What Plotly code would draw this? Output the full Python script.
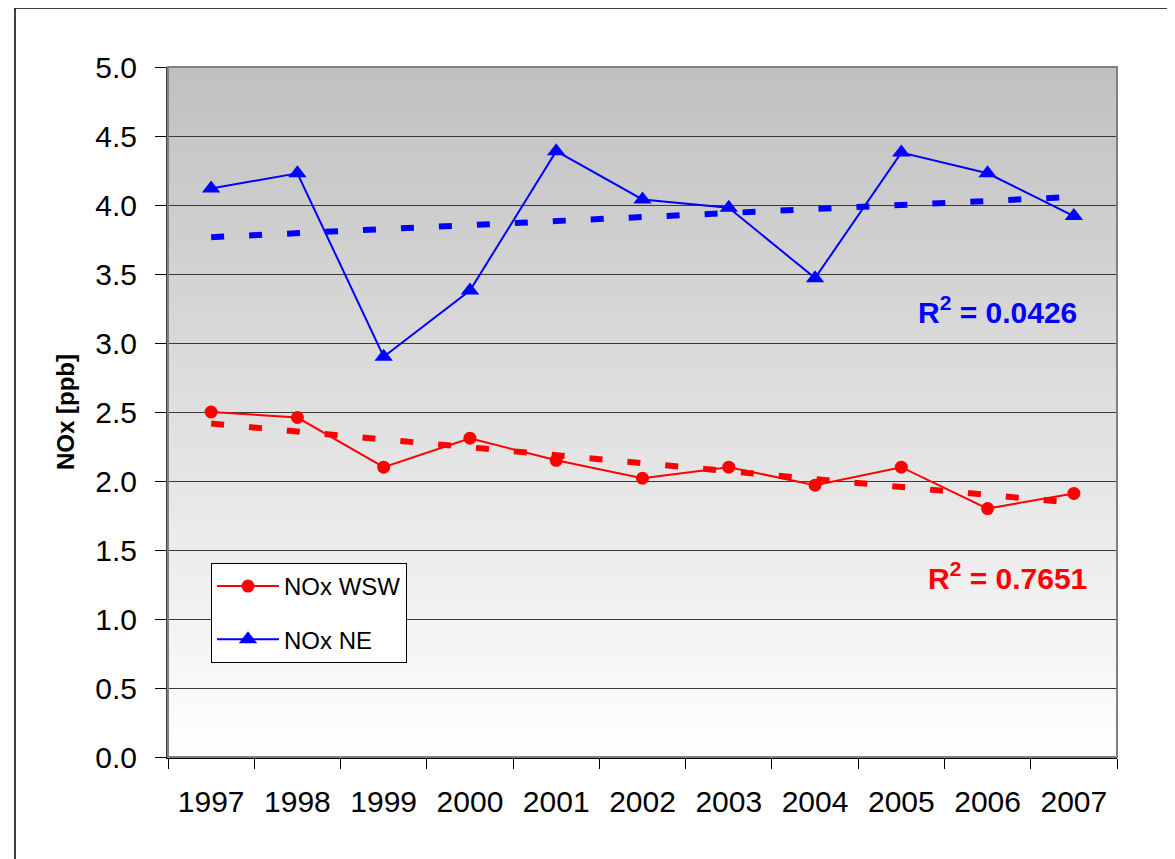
import numpy as np
import plotly.graph_objects as go

years = ["1997", "1998", "1999", "2000", "2001", "2002", "2003", "2004", "2005", "2006", "2007"]
nox_wsw = [2.50, 2.46, 2.10, 2.31, 2.15, 2.02, 2.10, 1.97, 2.10, 1.80, 1.91]
nox_ne = [4.12, 4.23, 2.90, 3.38, 4.39, 4.04, 3.98, 3.47, 4.38, 4.23, 3.92]
r2_wsw_text = "R<sup>2</sup> = 0.7651"
r2_ne_text = "R<sup>2</sup> = 0.0426"
y_ticks = [0.0, 0.5, 1.0, 1.5, 2.0, 2.5, 3.0, 3.5, 4.0, 4.5, 5.0]

# page has an 8px body margin; figure placed at (8, 8)
OFF = 8
W, H = 1175 - OFF, 859 - OFF
L, R, T, B = 168, 1117, 67, 757  # absolute page pixels of the plot area

idx = np.arange(len(years))
def trend(vals):
    m, c = np.polyfit(idx, vals, 1)
    return list(m * idx + c)

fig = go.Figure()

RED = "#ff0000"
BLUE = "#0000ff"

fig.add_trace(go.Scatter(x=years, y=trend(nox_wsw), mode="lines",
                         line=dict(color=RED, width=6, dash="13px,25px"),
                         showlegend=False, hoverinfo="skip"))
fig.add_trace(go.Scatter(x=years, y=trend(nox_ne), mode="lines",
                         line=dict(color=BLUE, width=6, dash="13px,25px"),
                         showlegend=False, hoverinfo="skip"))
fig.add_trace(go.Scatter(x=years, y=nox_wsw, mode="lines+markers", name="NOx WSW",
                         legendgroup="a",
                         line=dict(color=RED, width=2),
                         marker=dict(symbol="circle", size=13, color=RED)))
fig.add_trace(go.Scatter(x=years, y=nox_ne, mode="lines+markers", name="NOx NE",
                         legendgroup="b",
                         line=dict(color=BLUE, width=2),
                         marker=dict(symbol="triangle-up", size=16, color=BLUE)))

pw, ph = R - L, B - T
def px(x):
    return (x - L) / pw
def py(y):
    return (B - y) / ph

shapes = []
n = 100
for i in range(n):
    f = (i + 0.5) / n
    g = int(round(255 - (255 - 192) * f))
    shapes.append(dict(type="rect", xref="paper", yref="paper",
                       x0=0, x1=1, y0=i / n, y1=min(1.0, (i + 1.6) / n),
                       fillcolor=f"rgb({g},{g},{g})", line=dict(width=0),
                       layer="below"))
shapes.append(dict(type="rect", xref="paper", yref="paper", x0=0, x1=1, y0=0, y1=1,
                   line=dict(color="#808080", width=2), layer="above"))
shapes.append(dict(type="rect", xref="paper", yref="paper",
                   x0=px(15), x1=px(1200), y0=py(880), y1=py(8),
                   line=dict(color="#000000", width=1.5), layer="above"))

fig.update_layout(
    width=W, height=H,
    margin=dict(l=L - OFF, r=W + OFF - R, t=T - OFF, b=H + OFF - B),
    paper_bgcolor="white",
    plot_bgcolor="rgba(0,0,0,0)",
    font=dict(family="Liberation Sans, Arial, sans-serif", color="black"),
    shapes=shapes,
    showlegend=True,
    legend=dict(x=px(211), y=py(563), xanchor="left", yanchor="top",
                bgcolor="white", bordercolor="#000000", borderwidth=1,
                font=dict(size=24), itemwidth=62, tracegroupgap=19,
                itemsizing="trace"),
    xaxis=dict(type="category", tickson="boundaries", ticks="outside", ticklen=10,
               tickcolor="#000000", showline=True, linecolor="#000000", linewidth=2,
               showgrid=False, tickfont=dict(size=30), range=[-0.5, 10.5],
               ticklabelstandoff=17),
    yaxis=dict(range=[0, 5], tickvals=y_ticks, tickformat=".1f", ticks="outside",
               ticklen=11, tickcolor="#000000", showline=True, linecolor="#404040",
               linewidth=2, showgrid=True, gridcolor="#3a3a3a", gridwidth=1,
               tickfont=dict(size=30), zeroline=False, ticklabelstandoff=12,
               title=dict(text="<b>NOx [ppb]</b>", font=dict(size=24), standoff=14)),
    annotations=[
        dict(x=px(997), y=py(310), xref="paper", yref="paper", text=f"<b>{r2_ne_text}</b>",
             xanchor="center", yanchor="middle",
             showarrow=False, font=dict(size=30, color=BLUE)),
        dict(x=px(1007), y=py(576), xref="paper", yref="paper", text=f"<b>{r2_wsw_text}</b>",
             xanchor="center", yanchor="middle",
             showarrow=False, font=dict(size=30, color=RED)),
    ],
)

fig.write_html("out.html")
